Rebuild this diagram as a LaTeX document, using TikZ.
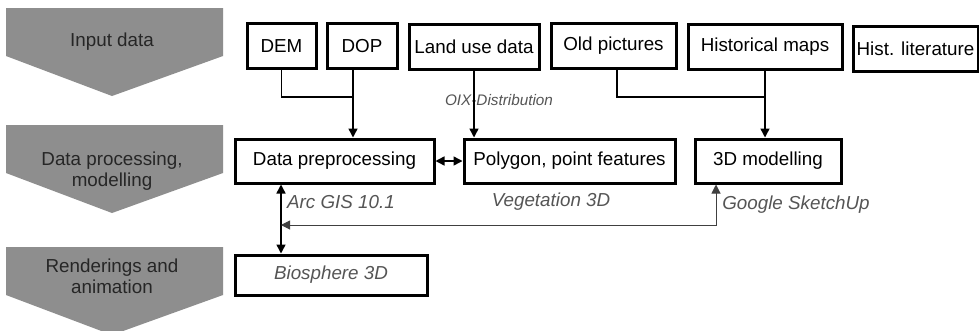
\documentclass[tikz,border=0pt]{standalone}
\usepackage{fontspec}
\setmainfont{Liberation Sans}
\usetikzlibrary{arrows.meta}
\definecolor{chevgray}{HTML}{8E8E8E}
\definecolor{toolgray}{HTML}{555555}

\begin{document}
\begin{tikzpicture}[x=1pt, y=-1pt, line width=1.5pt,
  box/.style={draw, line width=3pt, inner sep=0pt, minimum height=45pt,
    font=\fontsize{18.8}{21}\selectfont},
  stagetext/.style={align=center, text=black!85, font=\fontsize{18.8}{21}\selectfont},
  tooltext/.style={inner sep=0pt, text=toolgray, font=\fontsize{18.8}{21}\selectfont\itshape},
  arr/.style={-{Triangle[length=9pt,width=9pt]}},
  darr/.style={{Triangle[length=9pt,width=9pt]}-{Triangle[length=9pt,width=9pt]}}]
  \clip (0,0) rectangle (979,330);
  \fill[white] (0,0) rectangle (979,330);

  % stage chevrons on the left
  \def\sh{48}   % depth of the straight part
  \def\tip{88}  % depth of the point
  \foreach \top in {8,125,247}
    \fill[chevgray] (6,\top) -- (223,\top) -- (223,\top+\sh)
      -- (112,\top+\tip) -- (6,\top+\sh) -- cycle;
  \node[stagetext] (stin)  at (112,42)  {Input data};
  \node[stagetext] (stpro) at (112,171) {Data processing,\\modelling};
  \node[stagetext] (stren) at (112,276) {Renderings and\\animation};

  % input data
  \node[box, minimum width=69pt]  (dem)  at (281.5,46) {DEM};
  \node[box, minimum width=70pt]  (dop)  at (362,46)   {DOP};
  \node[box, minimum width=130pt] (land) at (474,47)   {Land use data};
  \node[box, minimum width=125pt] (old)  at (613.5,46) {Old pictures};
  \node[box, minimum width=154pt] (hmap) at (765,47)   {Historical maps};
  \node[box, minimum width=125pt] (hlit) at (915.5,49) {Hist. literature};

  % processing and modelling
  \node[box, minimum width=199pt, minimum height=44pt] (prep) at (334.5,161) {Data preprocessing};
  \node[box, minimum width=211pt, minimum height=44pt] (poly) at (569.5,161) {Polygon, point features};
  \node[box, minimum width=146pt, minimum height=44pt] (mod)  at (768,161)   {3D modelling};

  % rendering
  \node[box, minimum width=192pt, minimum height=40pt, text=toolgray,
    font=\fontsize{18.8}{21}\selectfont\itshape] (bio) at (331,275) {Biosphere 3D};

  % software labels
  \node[tooltext, font=\fontsize{15.3}{17}\selectfont\itshape] (oix) at (499,100) {OIX-Distribution};
  \node[tooltext] (arcgis) at (341,202) {Arc GIS 10.1};
  \node[tooltext] (veg)    at (551,202) {Vegetation 3D};
  \node[tooltext] (sketch) at (796,205) {Google SketchUp};

  % junctions of the merging lines
  \coordinate (j1) at (353,97);
  \coordinate (j2) at (hmap.south |- 0,97);
  \coordinate (b1) at (281,225);
  \coordinate (b2) at (716,225);

  % connectors
  \draw (dem.south) |- (j1);
  \draw[arr] (dop.south -| j1) -- (j1 |- prep.north);
  \draw[arr] (land.south) -- (land.south |- poly.north);
  \draw (old.south -| 617,0) |- (j2);
  \draw[arr] (hmap.south) -- (hmap.south |- mod.north);
  \draw[darr] (prep.east) -- (poly.west);
  \draw[darr] (b1 |- prep.south) -- (b1 |- bio.north);
  \draw[darr, line width=1pt, draw=black!75] (b2 |- mod.south) |- (b1);
\end{tikzpicture}
\end{document}
